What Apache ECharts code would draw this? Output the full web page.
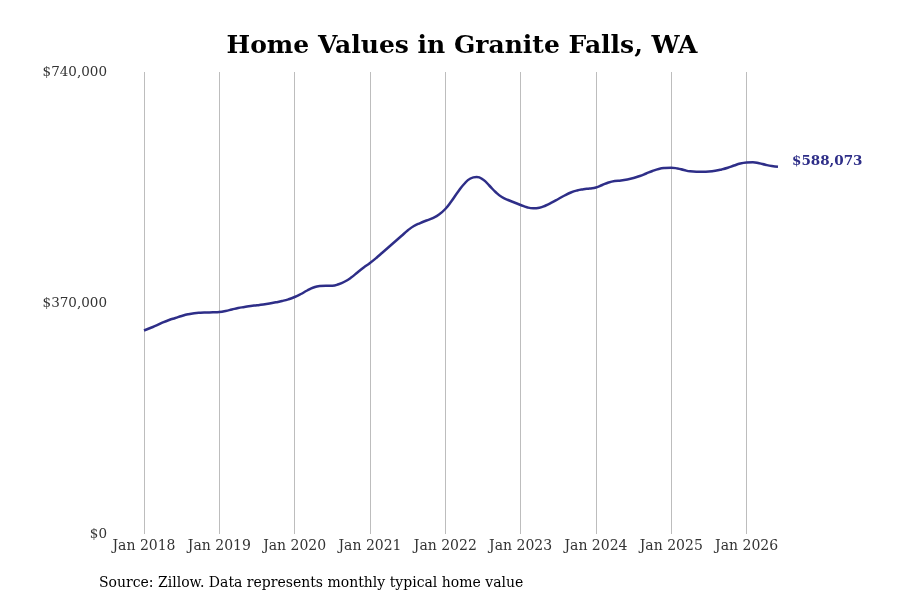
<!DOCTYPE html>
<html>
<head>
<meta charset="utf-8">
<script src="https://cdn.jsdelivr.net/npm/echarts@6/dist/echarts.min.js"></script>
<style>
html,body{margin:0;padding:0;background:#fff;}
#chart{width:900px;height:600px;}
</style>
</head>
<body>
<div id="chart"></div>
<script>
// Monthly typical home value, Jan 2018 - Jun 2026
var startYear = 2018;
var values = [
  326000, 330000, 334000, 338800, 342800, 346000, 349200, 351900, 353700, 354500, 354800, 355100,
  355600, 357200, 359600, 362000, 363600, 365200, 366300, 367600, 369200, 371100, 373200, 375900,
  379600, 384400, 390000, 394800, 397200, 397700, 397700, 400000, 404400, 410800, 418900, 426900,
  434100, 442100, 450900, 459700, 468500, 477300, 486100, 493300, 498100, 502100, 506100, 511800,
  520600, 533400, 547800, 560600, 569400, 571800, 567800, 558200, 547800, 539800, 535000, 531000,
  527000, 523300, 521700, 522600, 526200, 531000, 536600, 542200, 547000, 550200, 552100, 553400,
  555000, 559000, 563000, 565400, 566200, 567800, 570200, 573400, 577400, 581400, 584600, 586200,
  586700, 585400, 583000, 580900, 580300, 580300, 580600, 581700, 583800, 586600, 590200, 593400,
  595000, 595400, 593800, 591400, 589400, 588073
];
var monthNames = ['Jan','Feb','Mar','Apr','May','Jun','Jul','Aug','Sep','Oct','Nov','Dec'];
var categories = values.map(function (v, i) {
  return monthNames[i % 12] + ' ' + (startYear + Math.floor(i / 12));
});
var yTicks = [0, 370000, 740000];
var titleText = 'Home Values in Granite Falls, WA';
var sourceText = 'Source: Zillow. Data represents monthly typical home value';

var serif = '"DejaVu Serif", serif';
var chart = echarts.init(document.getElementById('chart'));
chart.setOption({
  animation: false,
  backgroundColor: '#ffffff',
  title: [{
    text: titleText,
    left: 457,
    top: 29,
    textAlign: 'center',
    textStyle: { fontFamily: serif, fontWeight: 'bold', fontSize: 25, color: '#000' }
  }, {
    text: sourceText,
    left: 94,
    top: 571,
    textStyle: { fontFamily: serif, fontWeight: 'normal', fontSize: 14, color: '#000' }
  }],
  grid: { left: 144, right: 122, top: 72, bottom: 66, containLabel: false },
  xAxis: {
    type: 'category',
    data: categories,
    boundaryGap: false,
    axisLine: { show: false },
    axisTick: { show: false },
    axisLabel: {
      interval: function (idx) { return idx % 12 === 0; },
      fontFamily: serif, fontSize: 14, color: '#333', margin: 5
    },
    splitLine: {
      show: true,
      interval: function (idx) { return idx % 12 === 0; },
      lineStyle: { color: '#bdbdbd', width: 1 }
    }
  },
  yAxis: {
    type: 'value',
    min: yTicks[0],
    max: yTicks[2],
    interval: yTicks[1] - yTicks[0],
    axisLine: { show: false },
    axisTick: { show: false },
    splitLine: { show: false },
    axisLabel: {
      margin: 37,
      padding: [4, 0, 0, 0],
      fontFamily: serif, fontSize: 13.5, color: '#333',
      formatter: function (v) { return '$' + v.toLocaleString('en-US'); }
    }
  },
  series: [{
    type: 'line',
    data: values,
    smooth: true,
    showSymbol: false,
    lineStyle: { color: '#2e2e88', width: 2.5 },
    endLabel: {
      show: true,
      distance: 14,
      offset: [0, -5],
      fontFamily: serif, fontWeight: 'bold', fontSize: 13.5, color: '#2e2e88',
      formatter: function (p) { return '$' + p.value.toLocaleString('en-US'); }
    }
  }]
});
</script>
</body>
</html>
